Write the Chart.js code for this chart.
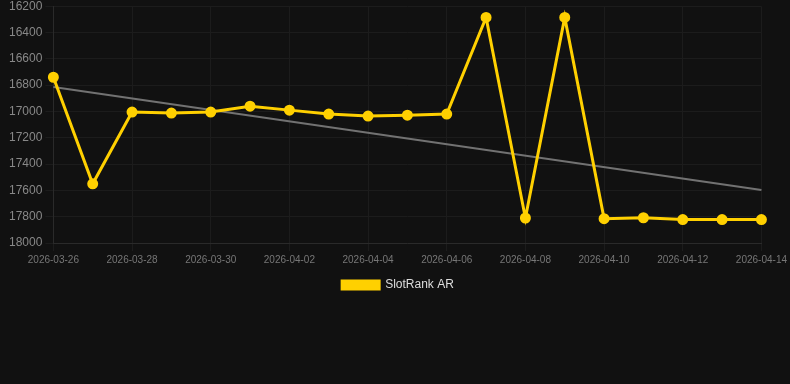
<!DOCTYPE html>
<html>
<head>
<meta charset="utf-8">
<script src="https://cdn.jsdelivr.net/npm/chart.js@4/dist/chart.umd.min.js"></script>
<style>
  html, body { margin: 0; padding: 0; background: #111111; overflow: hidden; }
  #wrap { width: 790px; height: 305px; margin-top: -4px; }
</style>
</head>
<body>
<div id="wrap"><canvas id="rankChart"></canvas></div>
<script>
const fechas = [
  '2026-03-26', '2026-03-27', '2026-03-28', '2026-03-29', '2026-03-30',
  '2026-04-01', '2026-04-02', '2026-04-03', '2026-04-04', '2026-04-05',
  '2026-04-06', '2026-04-07', '2026-04-08', '2026-04-09', '2026-04-10',
  '2026-04-11', '2026-04-12', '2026-04-13', '2026-04-14'
];
const rankAR = [
  16740, 17550, 17005, 17012, 17005,
  16960, 16990, 17020, 17035, 17028,
  17020, 16285, 17810, 16285, 17815,
  17808, 17822, 17822, 17822
];
const tendFechas = ['2026-03-26', '2026-04-14'];
const tendValores = [16815, 17597];

const ctx = document.getElementById('rankChart').getContext('2d');

const chart = new Chart(ctx, {
  type: 'line',
  data: {
    labels: fechas,
    datasets: [{
      label: 'SlotRank AR',
      data: rankAR,
      borderColor: '#ffd000',
      backgroundColor: '#ffd000',
      borderWidth: 3,
      pointRadius: 4,
      pointHoverRadius: 4,
      fill: false,
      tension: 0
    }, {
      label: 'trend',
      data: tendFechas.map((f, i) => ({ x: f, y: tendValores[i] })),
      borderColor: '#727272',
      borderWidth: 2,
      pointRadius: 0,
      fill: false
    }]
  },
  options: {
    responsive: true,
    maintainAspectRatio: false,
    animation: false,
    layout: { padding: { left: 6, right: 0, top: 0, bottom: 0 } },
    plugins: {
      legend: {
        position: 'bottom',
        labels: {
          color: '#dddddd',
          font: { family: 'Arial, Liberation Sans, sans-serif', size: 12 },
          boxWidth: 37,
          boxHeight: 8,
          filter: item => item.text !== 'trend'
        }
      },
      tooltip: { enabled: false }
    },
    scales: {
      x: {
        ticks: {
          color: '#777777',
          font: { family: 'Arial, Liberation Sans, sans-serif', size: 10 },
          maxRotation: 0,
          autoSkip: true
        },
        grid: { color: '#1c1c1c' },
        border: { color: '#2a2a2a' }
      },
      y: {
        reverse: true,
        min: 16200,
        max: 18000,
        ticks: {
          stepSize: 200,
          color: '#888888',
          font: { family: 'Arial, Liberation Sans, sans-serif', size: 12 },
          callback: v => String(v)
        },
        grid: { color: '#1c1c1c' },
        border: { color: '#2a2a2a' }
      }
    }
  }
});
</script>
</body>
</html>
